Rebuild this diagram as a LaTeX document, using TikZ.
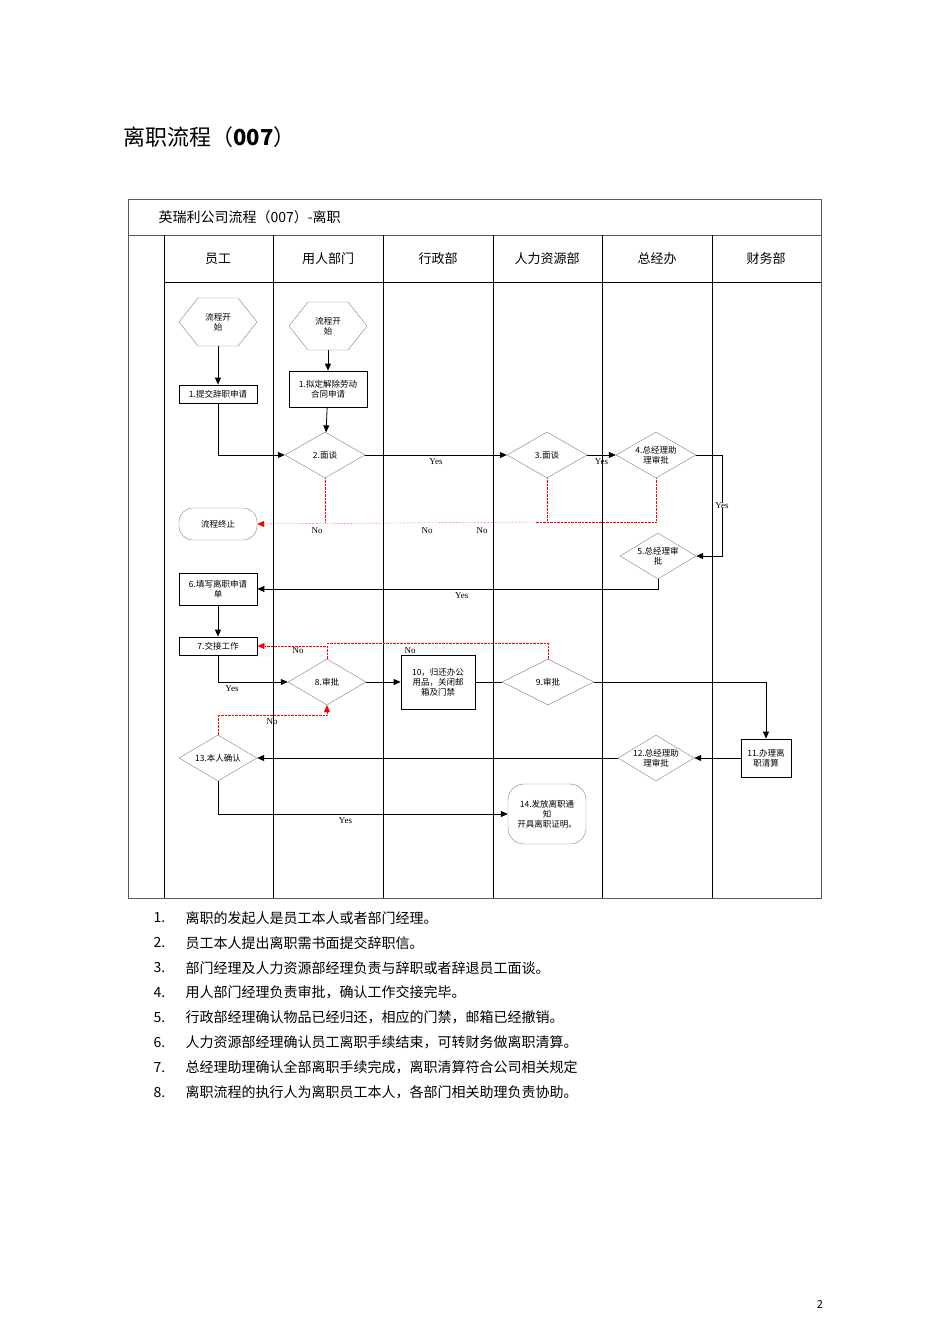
\documentclass[tikz,border=0pt]{standalone}
\usepackage{fontspec}
\setmainfont{Noto Sans CJK SC}
\newfontfamily\lat{Liberation Serif}
\usetikzlibrary{shapes.geometric,arrows.meta}
\begin{document}
\begin{tikzpicture}[x=1pt,y=-1pt,
 sm/.style={font=\fontsize{8.5}{10}\selectfont,align=center},
 dia/.style={sm,draw=gray,diamond,inner sep=0pt,aspect=1.7},
 bx/.style={sm,draw,thick,inner sep=1pt},
 fl/.style={-{Triangle[length=7pt,width=6pt]},thick},
 no/.style={red,densely dotted},
 lb/.style={font=\lat\fontsize{9}{10}\selectfont}]
\useasboundingbox (0,0) rectangle (950,1344);
\node[anchor=west,font=\fontsize{22}{26}\selectfont] (title) at (120,137) {离职流程（\textbf{007}）};
% frame
\draw[gray!70!black] (128,199) rectangle (821,898);
\draw[gray!70!black] (128,235) -- (821,235);
\draw (164,282) -- (821,282);
\foreach \x in {164,273,383,493,602,712} \draw (\x,235) -- (\x,898);
\node[anchor=west,font=\fontsize{14}{16}\selectfont] (hdr) at (155,217) {英瑞利公司流程（007）-离职};
\foreach \t/\x in {员工/218,用人部门/328,行政部/438,人力资源部/547,总经办/657,财务部/766}
  \node[font=\fontsize{13}{15}\selectfont] (h\x) at (\x,259) {\t};
% nodes
\draw[gray] (179,322) -- (198,298) -- (238,298) -- (257,322) -- (238,346) -- (198,346) -- cycle;
\node[sm] (s1) at (218,322) {流程开\\始};
\draw[gray] (289,326) -- (308,302) -- (348,302) -- (367,326) -- (348,350) -- (308,350) -- cycle;
\node[sm] (s2) at (328,326) {流程开\\始};
\node[bx,minimum width=78pt,minimum height=18pt] (b1) at (218,394) {1.提交辞职申请};
\node[bx,minimum width=78pt,minimum height=36pt] (b1b) at (328,389) {1.拟定解除劳动\\合同申请};
\node[dia,minimum width=80pt,minimum height=46pt] (d2) at (325,455) {2.面谈};
\node[dia,minimum width=80pt,minimum height=46pt] (d3) at (547,455) {3.面谈};
\node[dia,minimum width=80pt,minimum height=46pt] (d4) at (656,455) {4.总经理助\\理审批};
\node[sm,draw=gray,rounded corners=14pt,minimum width=78pt,minimum height=32pt] (end) at (218,524) {流程终止};
\node[dia,minimum width=76pt,minimum height=46pt] (d5) at (658,556) {5.总经理审\\批};
\node[bx,minimum width=78pt,minimum height=32pt] (b6) at (218,589) {6.填写离职申请\\单};
\node[bx,minimum width=78pt,minimum height=18pt] (b7) at (218,646) {7.交接工作};
\node[dia,minimum width=78pt,minimum height=46pt] (d8) at (327,682) {8.审批};
\node[bx,minimum width=74pt,minimum height=54pt] (b10) at (438,682) {10，归还办公\\用品，关闭邮\\箱及门禁};
\node[dia,minimum width=92pt,minimum height=46pt] (d9) at (548,682) {9.审批};
\node[dia,minimum width=78pt,minimum height=46pt] (d13) at (218,758) {13.本人确认};
\node[dia,minimum width=76pt,minimum height=46pt] (d12) at (656,758) {12.总经理助\\理审批};
\node[bx,minimum width=50pt,minimum height=38pt] (b11) at (766,758) {11.办理离\\职清算};
\node[sm,draw=gray,rounded corners=16pt,minimum width=78pt,minimum height=60pt] (n14) at (547,814) {14.发放离职通\\知\\开具离职证明。};
% edges
\draw[fl] (s1) ++(0,24) -- (b1);
\draw[fl] (s2) ++(0,24) -- (b1b);
\draw[fl] (b1b) -- (d2);
\draw[fl] (b1.south) |- (d2.west);
\draw[fl] (d2.east) -- node[lb,below]{Yes} (d3.west);
\draw[fl] (d3.east) -- node[lb,below]{Yes} (d4.west);
\draw[fl] (d4.east) -- (722,455) -- node[lb,fill=white,inner sep=0pt]{Yes} (722,556) -- (d5.east);
\draw[no] (d2.south) -- (325,522);
\draw[no] (d3.south) -- (547,522);
\draw[no] (d4.south) -- (656,522) -- (535,522);
\draw[no,-{Triangle[length=7pt,width=6pt]}] (535,522) -- (end.east);
\node[lb] (no1) at (317,531) {No};
\node[lb] (no2) at (427,531) {No};
\node[lb] (no3) at (482,531) {No};
\draw[fl] (d5.south) |- node[lb,below,pos=0.745]{Yes} (b6.east);
\draw[fl] (b6) -- (b7);
\draw[fl] (b7.south) |- node[lb,below,pos=0.6]{Yes} (d8.west);
\draw[fl] (d8.east) -- (b10.west);
\draw[thick] (b10.east) -- (d9.west);
\draw[fl] (d9.east) -| (b11.north);
\draw[fl] (b11.west) -- (d12.east);
\draw[fl] (d12.west) -- (d13.east);
\draw[fl] (d13.south) |- node[lb,below,pos=0.72]{Yes} (n14.west);
\draw[no] (d9.north) |- (327,643);
\draw[no,-{Triangle[length=7pt,width=6pt]}] (d8.north) |- (b7.east);
\node[lb] (no4) at (298,651) {No};
\node[lb] (no5) at (410,651) {No};
\draw[no,-{Triangle[length=7pt,width=6pt]}] (d13.north) |- (327,715) -- (d8.south);
\node[lb] (no6) at (272,722) {No};
% notes
\foreach \i/\t [count=\k from 0] in {1/离职的发起人是员工本人或者部门经理。,2/员工本人提出离职需书面提交辞职信。,3/部门经理及人力资源部经理负责与辞职或者辞退员工面谈。,4/用人部门经理负责审批，确认工作交接完毕。,5/行政部经理确认物品已经归还，相应的门禁，邮箱已经撤销。,6/人力资源部经理确认员工离职手续结束，可转财务做离职清算。,7/总经理助理确认全部离职手续完成，离职清算符合公司相关规定,8/离职流程的执行人为离职员工本人，各部门相关助理负责协助。}{
  \node[anchor=west,font=\fontsize{14}{16}\selectfont] (n\i) at (150,918+24.9*\k) {\i.};
  \node[anchor=west,font=\fontsize{14}{16}\selectfont] (t\i) at (182,918+24.9*\k) {\t};
}
\node[font=\fontsize{11}{12}\selectfont] (pg) at (820,1304) {2};
\end{tikzpicture}
\end{document}
